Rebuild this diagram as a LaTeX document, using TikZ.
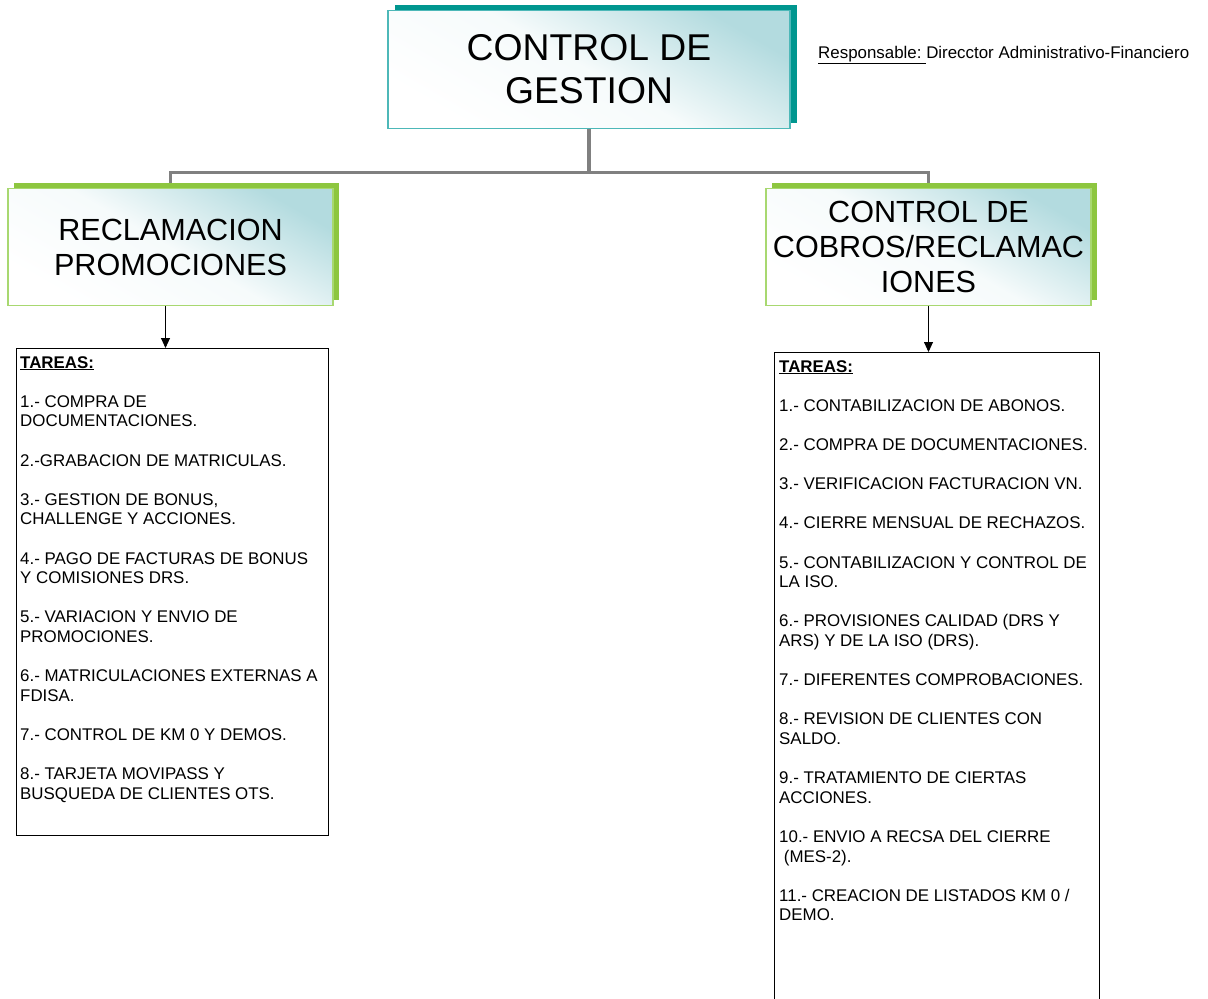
\documentclass[tikz,border=0pt]{standalone}
\usepackage{fontspec}
\setmainfont{Liberation Sans}
\usetikzlibrary{arrows.meta,shadows,backgrounds,positioning}
\definecolor{tealshadow}{HTML}{00968F}
\definecolor{tealline}{HTML}{4DB8B8}
\definecolor{greenshadow}{HTML}{8DC63F}
\definecolor{greenline}{HTML}{A8D870}
\definecolor{paleteal}{HTML}{B3DBDF}
\definecolor{linkgray}{HTML}{808080}
\tikzset{
  unitbox/.style={draw, line width=1.2pt, shading=axis, top color=paleteal, bottom color=white,
    middle color=white!88!paleteal, shading angle=-30, align=center, inner sep=2pt},
  headbox/.style={unitbox, draw=tealline, minimum width=402, minimum height=118,
    font=\fontsize{37.3}{43}\selectfont,
    drop shadow={shadow xshift=7pt, shadow yshift=6pt, fill=tealshadow, opacity=1}},
  areabox/.style={unitbox, draw=greenline, minimum width=325, minimum height=117,
    font=\fontsize{30.6}{35}\selectfont,
    drop shadow={shadow xshift=6pt, shadow yshift=6pt, fill=greenshadow, opacity=1}},
  taskbox/.style={draw=black, line width=0.9pt, anchor=north west, inner sep=0pt},
  tasktext/.style={anchor=north west, align=left, inner sep=0pt, font=\fontsize{16.9}{19.6}\selectfont},
  link/.style={draw=linkgray, line width=3.5pt},
  arrowlink/.style={-{Triangle[length=10pt,width=9pt]}, line width=0.9pt}
}
\begin{document}
\begin{tikzpicture}[x=1pt,y=-1pt]
  \useasboundingbox (0,0) rectangle (1208,999);
  % head and areas
  \node[headbox] (gestion) at (589,69.5) {CONTROL DE\\GESTION};
  \node[areabox] (reclam) at (170.5,247) {RECLAMACION\\PROMOCIONES};
  \node[areabox] (cobros) at (928.5,247) {CONTROL DE\\COBROS/RECLAMAC\\IONES};
  \node[anchor=base west, inner sep=0pt, font=\fontsize{16.9}{20}\selectfont] (resp) at (818,58)
    {\underline{Responsable:\ }Direcctor Administrativo-Financiero};
  % links
  \begin{scope}[on background layer]
    \draw[link] (gestion.south) -- ++(0,43.5) coordinate (fork);
    \draw[link] (fork) -| (reclam.north);
    \draw[link] (fork) -| (cobros.north);
  \end{scope}
  % task lists
  \node[taskbox, minimum width=312, minimum height=487] (boxA) at (16,348) {};
  \node[taskbox, minimum width=325, minimum height=660] (boxB) at (774,352) {};
  \draw[arrowlink] ([xshift=-5]reclam.south) -- ([xshift=-5]reclam.south |- boxA.north);
  \draw[arrowlink] (cobros.south) -- (cobros.south |- boxB.north);
  \node[tasktext] (listA) at (20,356) {\textbf{\underline{TAREAS:}}\\[19.6pt]
    1.- COMPRA DE\\DOCUMENTACIONES.\\[19.6pt]
    2.-GRABACION DE MATRICULAS.\\[19.6pt]
    3.- GESTION DE BONUS,\\CHALLENGE Y ACCIONES.\\[19.6pt]
    4.- PAGO DE FACTURAS DE BONUS\\Y COMISIONES DRS.\\[19.6pt]
    5.- VARIACION Y ENVIO DE\\PROMOCIONES.\\[19.6pt]
    6.- MATRICULACIONES EXTERNAS A\\FDISA.\\[19.6pt]
    7.- CONTROL DE KM 0 Y DEMOS.\\[19.6pt]
    8.- TARJETA MOVIPASS Y\\BUSQUEDA DE CLIENTES OTS.};
  \node[tasktext] (listB) at (779,360) {\textbf{\underline{TAREAS:}}\\[19.6pt]
    1.- CONTABILIZACION DE ABONOS.\\[19.6pt]
    2.- COMPRA DE DOCUMENTACIONES.\\[19.6pt]
    3.- VERIFICACION FACTURACION VN.\\[19.6pt]
    4.- CIERRE MENSUAL DE RECHAZOS.\\[19.6pt]
    5.- CONTABILIZACION Y CONTROL DE\\LA ISO.\\[19.6pt]
    6.- PROVISIONES CALIDAD (DRS Y\\ARS) Y DE LA ISO (DRS).\\[19.6pt]
    7.- DIFERENTES COMPROBACIONES.\\[19.6pt]
    8.- REVISION DE CLIENTES CON\\SALDO.\\[19.6pt]
    9.- TRATAMIENTO DE CIERTAS\\ACCIONES.\\[19.6pt]
    10.- ENVIO A RECSA DEL CIERRE\\\hspace*{4.7pt}(MES-2).\\[19.6pt]
    11.- CREACION DE LISTADOS KM 0 /\\DEMO.};
\end{tikzpicture}
\end{document}
